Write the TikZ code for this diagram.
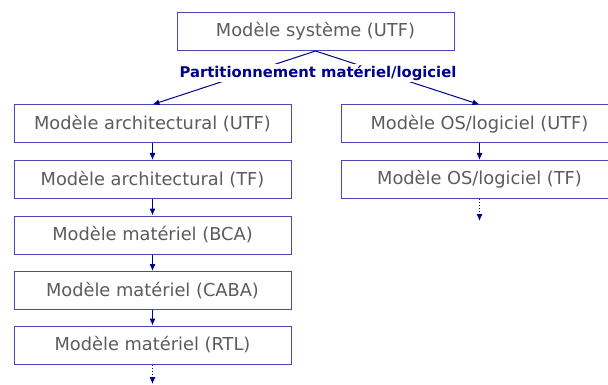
\documentclass[tikz,border=0pt]{standalone}
\usepackage{fontspec}
\setmainfont{DejaVu Sans}
\usetikzlibrary{arrows.meta}
\definecolor{boxblue}{HTML}{4848B8}
\definecolor{arrblue}{HTML}{00008C}
\definecolor{txtgrey}{HTML}{5C5C5C}
\tikzset{
  model/.style={draw=boxblue, line width=1pt, fill=white, text=txtgrey,
    minimum width=277pt, minimum height=38pt, inner sep=0pt,
    font=\fontsize{17.8}{20}\selectfont},
  flow/.style={draw=arrblue, line width=1pt, -{Latex[length=7pt,width=6pt]}},
  further/.style={flow, dotted}
}
\begin{document}
\begin{tikzpicture}[x=1pt, y=-1pt]
  \clip (0,0) rectangle (608,385);
  \useasboundingbox (0,0) rectangle (608,385);
  % top level
  \node[model] (sys) at (315.5,31.5) {Modèle système (UTF)};
  \coordinate (split) at (sys.south);
  % hardware branch
  \node[model] (arch1) at (152.5,124) {Modèle architectural (UTF)};
  \node[model] (arch2) at (152.5,179.5) {Modèle architectural (TF)};
  \node[model] (hw1) at (152.5,235) {Modèle matériel (BCA)};
  \node[model] (hw2) at (152.5,290.5) {Modèle matériel (CABA)};
  \node[model] (hw3) at (152.5,345) {Modèle matériel (RTL)};
  \coordinate (hwend) at (152.5,384);
  % software branch
  \node[model] (sw1) at (479.5,124) {Modèle OS/logiciel (UTF)};
  \node[model] (sw2) at (479.5,179.5) {Modèle OS/logiciel (TF)};
  \coordinate (swend) at (479.5,221);
  \draw[flow] (split) -- (arch1.north);
  \draw[flow] (split) -- (sw1.north);
  \node[fill=white, text=arrblue, inner sep=1pt,
    font=\bfseries\fontsize{14.8}{17}\selectfont] (part) at (318,73)
    {Partitionnement matériel/logiciel};
  \draw[flow] (arch1) -- (arch2);
  \draw[flow] (arch2) -- (hw1);
  \draw[flow] (hw1) -- (hw2);
  \draw[flow] (hw2) -- (hw3);
  \draw[further] (hw3) -- (hwend);
  \draw[flow] (sw1) -- (sw2);
  \draw[further] (sw2) -- (swend);
\end{tikzpicture}
\end{document}
